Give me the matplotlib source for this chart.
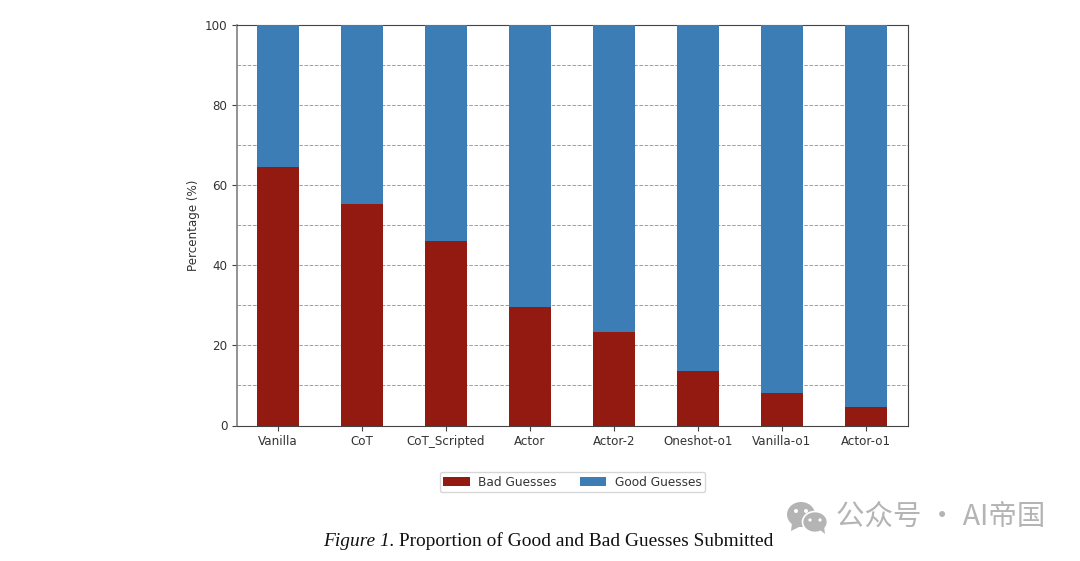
import matplotlib
matplotlib.use("Agg")
import matplotlib.pyplot as plt
from matplotlib.patches import Ellipse, Polygon

models = ["Vanilla", "CoT", "CoT_Scripted", "Actor", "Actor-2", "Oneshot-o1", "Vanilla-o1", "Actor-o1"]
bad = [64.5, 55.2, 46.0, 29.6, 23.3, 13.7, 8.2, 4.6]
good = [35.5, 44.8, 54.0, 70.4, 76.7, 86.3, 91.8, 95.4]
yticks = [0, 20, 40, 60, 80, 100]
minor_yticks = [10, 30, 50, 70, 90]

W, H = 1080, 561
fig = plt.figure(figsize=(W / 100, H / 100), dpi=100)
ax = fig.add_axes([237 / W, 1 - 425.5 / H, 671 / W, 400.5 / H])

ax.bar(models, bad, width=0.5, color="#931a10", label="Bad Guesses", linewidth=0, zorder=3)
ax.bar(models, good, width=0.5, bottom=bad, color="#3c7db6", label="Good Guesses", linewidth=0, zorder=3)

ax.set_xlim(-0.49, 7.5)
ax.set_ylim(0, 100)
ax.set_yticks(yticks)
ax.set_yticks(minor_yticks, minor=True)
ax.tick_params(axis="y", which="minor", length=0)
ax.tick_params(labelsize=8.6, colors="#333333", color="#444444")
ax.tick_params(axis="x", pad=3)
ax.grid(axis="y", which="both", linestyle="--", linewidth=0.7, color="#a0a0a0", zorder=0)
ax.set_ylabel("Percentage (%)", fontsize=8.6, color="#333333", labelpad=3)
for s in ax.spines.values():
    s.set_color("#444444")
ax.spines["left"].set_color("#808080")
ax.spines["left"].set_linewidth(1.2)

ax.legend(loc="center", bbox_to_anchor=(335.5 / 671, -56.5 / 400.5), ncol=2, fontsize=8.7, labelcolor="#333333",
          columnspacing=1.9, handlelength=2.2, handletextpad=0.7, borderpad=0.3, borderaxespad=0)

# caption
fig.text(323 / W, 1 - 546 / H, "Figure 1.", family="Liberation Serif", style="italic", fontsize=13.95,
         color="#111111", ha="left", va="baseline")
fig.text(399 / W, 1 - 546 / H, "Proportion of Good and Bad Guesses Submitted", family="Liberation Serif",
         fontsize=13.95, color="#111111", ha="left", va="baseline")

# watermark
wm = fig.add_axes([0, 0, 1, 1], facecolor="none")
wm.set_xlim(0, W)
wm.set_ylim(H, 0)
wm.axis("off")
wm.add_patch(Ellipse((801, 514.5), 28, 25, color="#b4b4b4", lw=0))
wm.add_patch(Polygon([[792, 523], [791, 531], [801, 526]], color="#b4b4b4", lw=0))
wm.add_patch(Ellipse((815, 522), 25, 21, color="#b4b4b4", ec="white", lw=1.2))
wm.add_patch(Polygon([[819, 529], [825, 534], [824, 526]], color="#b4b4b4", lw=0))
for x, y, c, s in [(796, 511, "white", 2), (806, 511, "white", 2), (810, 520, "white", 1.6), (820, 520, "white", 1.6)]:
    wm.add_patch(Ellipse((x, y), s * 2, s * 2, color=c, lw=0))
wm.text(836, 517, "公众号 · AI帝国", family=["Noto Sans CJK SC", "DejaVu Sans"], fontsize=20.5,
        color="#b4b4b4", ha="left", va="center")

fig.savefig("out.png", dpi=100)
